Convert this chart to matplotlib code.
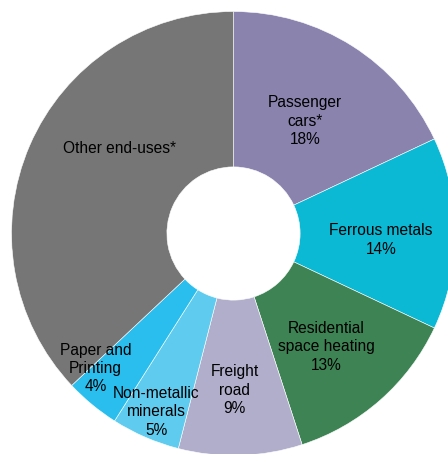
import numpy as np
import matplotlib.pyplot as plt

plt.rcParams['font.family'] = ['Liberation Sans', 'DejaVu Sans']

# slices, clockwise from 12 o'clock
labels = ["Passenger\ncars*", "Ferrous metals", "Residential\nspace heating",
          "Freight\nroad", "Non-metallic\nminerals", "Paper and\nPrinting",
          "Other end-uses*"]
shares = [18, 14, 13, 9, 5, 4, 37]
colors = ["#8A83AE", "#0BB9D5", "#3E8354", "#B0AECB", "#5FCBEF", "#29BEEE", "#767676"]
show_pct = [True, True, True, True, True, True, False]

# where each label sits: distance from centre and shift from slice middle (deg)
label_r = [0.60, 0.665, 0.66, 0.705, 0.875, 0.87, 0.64]
label_shift = [0, -2.5, -2, -1.3, 0, -6, -13.5]

fig = plt.figure(figsize=(4.48, 4.54), dpi=100)
# pie slightly larger than the canvas, cut off at right and bottom
ax = fig.add_axes([11.5 / 448, 1 - 455.5 / 454, 444 / 448, 444 / 454])

wedges, _ = ax.pie(shares, colors=colors, startangle=90, counterclock=False,
                   radius=1, wedgeprops=dict(width=0.70, edgecolor="white", linewidth=0.4))

for w, lab, s, pct, r, sh in zip(wedges, labels, shares, show_pct, label_r, label_shift):
    mid = np.deg2rad((w.theta1 + w.theta2) / 2 + sh)
    txt = lab + (f"\n{s}%" if pct else "")
    ax.text(r * np.cos(mid), r * np.sin(mid), txt, ha="center", va="center",
            fontsize=11.2, color="black", linespacing=1.28)

ax.set_xlim(-1, 1)
ax.set_ylim(-1, 1)
ax.set_aspect("equal")
ax.axis("off")

fig.savefig("out.png", dpi=100)
